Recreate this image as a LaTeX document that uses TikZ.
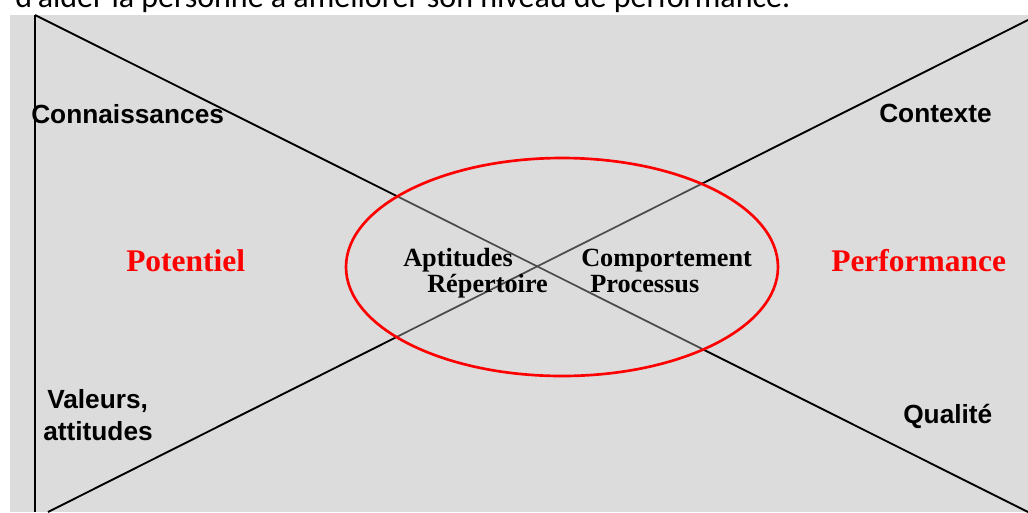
\documentclass[tikz,border=0pt]{standalone}
\usepackage{fontspec}
\setmainfont{Liberation Serif}
\setsansfont{Liberation Sans}
\newfontfamily\introfont{Carlito}
\definecolor{panel}{gray}{0.863}
\begin{document}
\begin{tikzpicture}[x=0.75pt,y=-0.75pt,
  side/.style={anchor=base west,inner sep=0pt,font=\sffamily\bfseries\fontsize{19.7}{23}\selectfont},
  core/.style={anchor=base west,inner sep=0pt,font=\rmfamily\bfseries\fontsize{19.7}{23}\selectfont},
  pole/.style={anchor=base west,inner sep=0pt,text=red,font=\rmfamily\bfseries\fontsize{23.6}{28}\selectfont},
  edge/.style={line width=1.4pt}]
  \useasboundingbox (0,0) rectangle (1028,512);
  \node[anchor=base west,inner sep=0pt,font=\introfont\fontsize{24}{28}\selectfont] (intro) at (15,7) {d’aider la personne à améliorer son niveau de performance.};
  \fill[panel] (10,15) rectangle (1028,512);
  % the three lines
  \coordinate (tl) at (35,15);
  \coordinate (bl) at (35,512);
  \coordinate (blx) at (48,512);
  \coordinate (tr) at (1028,20);
  \coordinate (br) at (1028,512);
  \draw[edge] (tl) -- (bl);
  \draw[edge] (tl) -- (br);
  \draw[edge] (blx) -- (tr);
  % inside the ellipse
  \fill[panel] (562,267) ellipse [x radius=216, y radius=109];
  \begin{scope}
    \clip (562,267) ellipse [x radius=216, y radius=109];
    \draw[line width=1.3pt,black!70] (tl) -- (br);
    \draw[line width=1.3pt,black!70] (blx) -- (tr);
  \end{scope}
  \draw[red,line width=2pt] (562,267) ellipse [x radius=216, y radius=109];
  % labels
  \node[side] (conn) at (31,123) {Connaissances};
  \node[side] (ctx) at (879,122) {Contexte};
  \node[side] (val) at (47,408) {Valeurs,};
  \node[side] (att) at (43,440) {attitudes};
  \node[side] (qual) at (903,423) {Qualité};
  \node[pole] (pot) at (126,271) {Potentiel};
  \node[pole] (perf) at (831,271) {Performance};
  \node[core] (apt) at (403,266) {Aptitudes};
  \node[core] (rep) at (427,292) {Répertoire};
  \node[core] (comp) at (581,266) {Comportement};
  \node[core] (proc) at (590,292) {Processus};
\end{tikzpicture}
\end{document}
